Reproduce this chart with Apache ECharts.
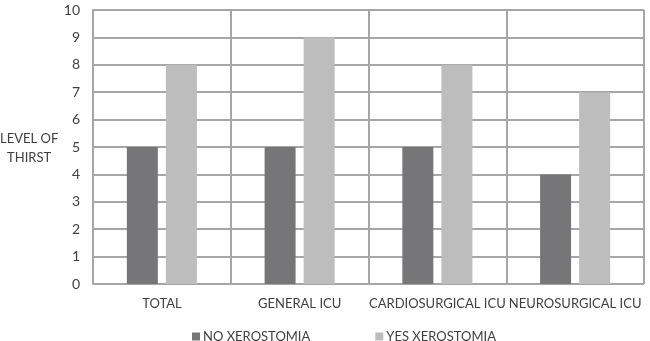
<!DOCTYPE html>
<html>
<head>
<meta charset="utf-8">
<script src="https://cdn.jsdelivr.net/npm/echarts@6/dist/echarts.min.js"></script>
<style>
  html, body { margin: 0; padding: 0; background: #fff; }
  #main { width: 650px; height: 341px; }
</style>
</head>
<body>
<div id="main"></div>
<script>
// categories and values
var categories = ['TOTAL', 'GENERAL ICU', 'CARDIOSURGICAL ICU', 'NEUROSURGICAL ICU'];
var noXerostomia = [5, 5, 5, 4];
var yesXerostomia = [8, 9, 8, 7];
var seriesNames = ['NO XEROSTOMIA', 'YES XEROSTOMIA'];

var textColor = '#404040';
var gridColor = '#a6a6a6';
var fontFam = 'Lato';

var myChart = echarts.init(document.getElementById('main'));
myChart.setOption({
  animation: false,
  color: ['#767678', '#bdbdbd'],
  grid: {
    left: 93,
    right: 6,
    top: 10,
    bottom: 57
  },
  graphic: [{
    type: 'text',
    left: 0,
    top: 129,
    style: {
      text: 'LEVEL OF\nTHIRST',
      textAlign: 'center',
      x: 28,
      fill: textColor,
      font: '13px ' + fontFam,
      lineHeight: 19
    }
  }],
  legend: {
    data: seriesNames,
    left: 187,
    top: 325,
    itemWidth: 8,
    itemHeight: 8,
    itemGap: 65,
    icon: 'rect',
    textStyle: {
      color: textColor,
      fontSize: 13,
      fontFamily: fontFam,
      padding: [0, 0, 0, -2]
    }
  },
  xAxis: {
    type: 'category',
    data: categories,
    axisTick: { show: false },
    axisLine: { show: false },
    axisLabel: {
      color: textColor,
      fontSize: 13,
      fontFamily: fontFam,
      margin: 13,
      interval: 0
    },
    splitLine: {
      show: true,
      lineStyle: { color: gridColor, width: 2 }
    }
  },
  yAxis: {
    type: 'value',
    min: 0,
    max: 10,
    interval: 1,
    axisLine: { show: true, lineStyle: { color: gridColor, width: 2 } },
    axisTick: { show: false },
    axisLabel: {
      color: textColor,
      fontSize: 14,
      fontFamily: fontFam,
      margin: 13
    },
    splitLine: {
      lineStyle: { color: gridColor, width: 2 }
    }
  },
  series: [
    {
      name: seriesNames[0],
      type: 'bar',
      data: noXerostomia,
      barWidth: 31,
      barGap: '26%'
    },
    {
      name: seriesNames[1],
      type: 'bar',
      data: yesXerostomia,
      barWidth: 31,
      barGap: '26%'
    }
  ]
});
</script>
</body>
</html>
